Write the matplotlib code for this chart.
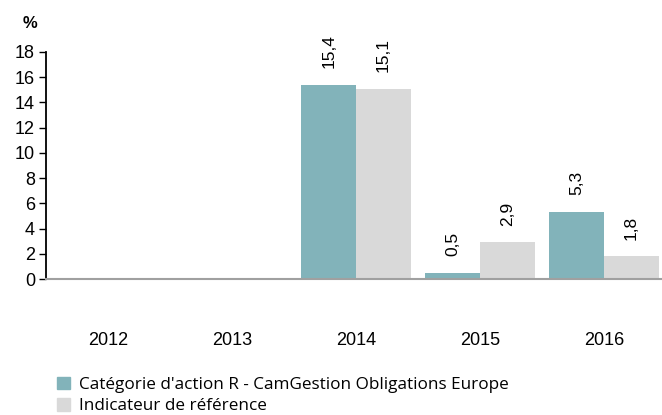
import numpy as np
import matplotlib.pyplot as plt
from matplotlib.patches import Patch

years = ['2012', '2013', '2014', '2015', '2016']
fund = [np.nan, np.nan, 15.4, 0.5, 5.3]
bench = [np.nan, np.nan, 15.1, 2.9, 1.8]
fund_labels = ['', '', '15,4', '0,5', '5,3']
bench_labels = ['', '', '15,1', '2,9', '1,8']

teal = '#82B3BA'
grey = '#D9D9D9'

plt.rcParams['font.family'] = ['Liberation Sans', 'DejaVu Sans']

fig = plt.figure(figsize=(6.62, 4.15), dpi=100)
ax = fig.add_axes([46 / 662, 136 / 415, 620 / 662, 227 / 415])

x = np.arange(len(years))
w = 0.44
ax.bar(x - w / 2, fund, width=w, color=teal)
ax.bar(x + w / 2, bench, width=w, color=grey)

for i in range(len(years)):
    if fund_labels[i]:
        ax.annotate(fund_labels[i], (x[i] - w / 2, fund[i]), xytext=(0, 12),
                    textcoords='offset points', rotation=90, ha='center',
                    va='bottom', fontsize=12.5)
    if bench_labels[i]:
        ax.annotate(bench_labels[i], (x[i] + w / 2, bench[i]), xytext=(0, 12),
                    textcoords='offset points', rotation=90, ha='center',
                    va='bottom', fontsize=12.5)

ax.set_xlim(-0.5, 4.5)
ax.set_ylim(0, 18)
ax.set_yticks(range(0, 19, 2))
ax.set_xticks(x)
ax.set_xticklabels(years)
ax.tick_params(axis='x', length=0, pad=38, labelsize=13)
ax.tick_params(axis='y', direction='out', length=5, width=1, labelsize=13, pad=3)

for s in ['top', 'right']:
    ax.spines[s].set_visible(False)
ax.spines['left'].set_color('black')
ax.spines['left'].set_linewidth(1.3)
ax.spines['bottom'].set_color('#A0A0A0')
ax.spines['bottom'].set_linewidth(1.5)

fig.text(30 / 662, 1 - 24 / 415, '%', fontsize=12, fontweight='bold',
         ha='center', va='center')

handles = [Patch(color=teal, label="Catégorie d'action R - CamGestion Obligations Europe"),
           Patch(color=grey, label='Indicateur de référence')]
fig.legend(handles=handles, loc='upper left', bbox_to_anchor=(50 / 662, 1 - 370 / 415),
           frameon=False, handlelength=0.75, handleheight=0.75,
           handletextpad=0.55, labelspacing=0.3, borderaxespad=0,
           prop={'family': ['Open Sans', 'DejaVu Sans'], 'size': 12.3})

fig.savefig('out.png', dpi=100)
